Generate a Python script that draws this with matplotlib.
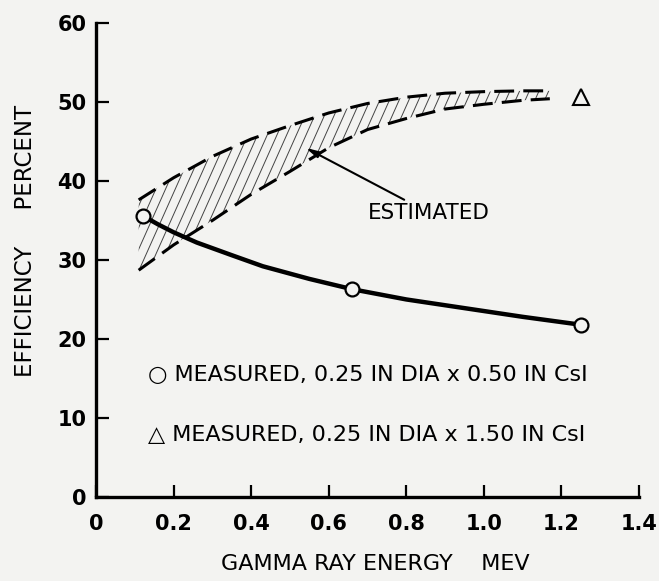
import numpy as np
import matplotlib.pyplot as plt
from matplotlib.patches import Polygon

plt.rcParams['font.family'] = ['DejaVu Sans']

# measured points, 0.25 in dia x 0.50 in CsI
meas_x = [0.12, 0.66, 1.25]
meas_y = [35.6, 26.3, 21.8]

# measured point, 0.25 in dia x 1.50 in CsI
tri_x = [1.25]
tri_y = [50.6]

# solid curve through the measured points
curve_x = [0.12, 0.16, 0.2, 0.26, 0.35, 0.43, 0.55, 0.66, 0.8, 0.95, 1.1, 1.25]
curve_y = [35.6, 34.5, 33.5, 32.2, 30.6, 29.2, 27.6, 26.3, 25.0, 23.9, 22.8, 21.8]

# estimated band
band_x = [0.11, 0.2, 0.3, 0.4, 0.5, 0.6, 0.7, 0.8, 0.9, 1.0, 1.1, 1.17]
band_hi = [37.6, 40.4, 43.1, 45.3, 47.0, 48.6, 49.8, 50.6, 51.1, 51.3, 51.4, 51.4]
band_lo = [28.7, 31.9, 35.0, 38.3, 41.2, 44.2, 46.5, 47.9, 49.1, 49.7, 50.2, 50.4]

x_ticks = [0, 0.2, 0.4, 0.6, 0.8, 1.0, 1.2, 1.4]
x_ticklabels = ['0', '0.2', '0.4', '0.6', '0.8', '1.0', '1.2', '1.4']
y_ticks = [0, 10, 20, 30, 40, 50, 60]

bg = '#f3f3f1'
fig = plt.figure(figsize=(6.59, 5.81), dpi=100, facecolor=bg)
ax = fig.add_axes([0.1457, 0.1446, 0.824, 0.816], facecolor=bg)

# hatched band: steep thin lines clipped to the band outline
poly = Polygon(list(zip(band_x, band_hi)) + list(zip(band_x[::-1], band_lo[::-1])),
               closed=True, facecolor='none', edgecolor='none')
ax.add_patch(poly)
slope = 110.0  # data units, roughly 65 deg on screen
for x0 in np.arange(-0.5, 1.3, 0.025):
    ln, = ax.plot([x0, x0 + 0.6], [0, 0.6 * slope], color='#444444', lw=0.7)
    ln.set_clip_path(poly)

ax.plot(band_x, band_hi, color='black', lw=2.2, dashes=(6.5, 3))
ax.plot(band_x, band_lo, color='black', lw=2.2, dashes=(6.5, 3))

# measured curve and points
ax.plot(curve_x, curve_y, color='black', lw=3.2, solid_capstyle='round')
ax.plot(meas_x, meas_y, 'o', ms=10, mfc=bg, mec='black', mew=1.6)
ax.plot(tri_x, tri_y, '^', ms=11, mfc=bg, mec='black', mew=1.5)

ax.annotate('ESTIMATED', xy=(0.54, 44.2), xytext=(0.70, 36.0),
            fontsize=15.5, va='center', ha='left',
            arrowprops=dict(arrowstyle='-|>,head_length=0.5,head_width=0.12',
                            color='black', lw=1.5, shrinkA=0, shrinkB=0))

ax.text(0.135, 15.4, '○ MEASURED, 0.25 IN DIA x 0.50 IN CsI', fontsize=16, va='center')
ax.text(0.135, 7.8, '△ MEASURED, 0.25 IN DIA x 1.50 IN CsI', fontsize=16, va='center')

ax.set_xlim(0, 1.4)
ax.set_ylim(0, 60)
ax.set_xticks(x_ticks)
ax.set_xticklabels(x_ticklabels)
ax.set_yticks(y_ticks)
for s in ['top', 'right']:
    ax.spines[s].set_visible(False)
for s in ['left', 'bottom']:
    ax.spines[s].set_linewidth(2.4)
ax.tick_params(axis='both', direction='in', length=9, width=1.6, labelsize=15)
ax.tick_params(axis='x', pad=12)
ax.tick_params(axis='y', pad=7)
for lab in ax.get_xticklabels() + ax.get_yticklabels():
    lab.set_fontweight('bold')

ax.set_xlabel('GAMMA RAY ENERGY    MEV', fontsize=16)
ax.set_ylabel('EFFICIENCY     PERCENT', fontsize=16.5)
ax.xaxis.set_label_coords(0.514, -0.12)
ax.yaxis.set_label_coords(-0.108, 0.54)

fig.savefig('out.png', dpi=100, facecolor=bg)
